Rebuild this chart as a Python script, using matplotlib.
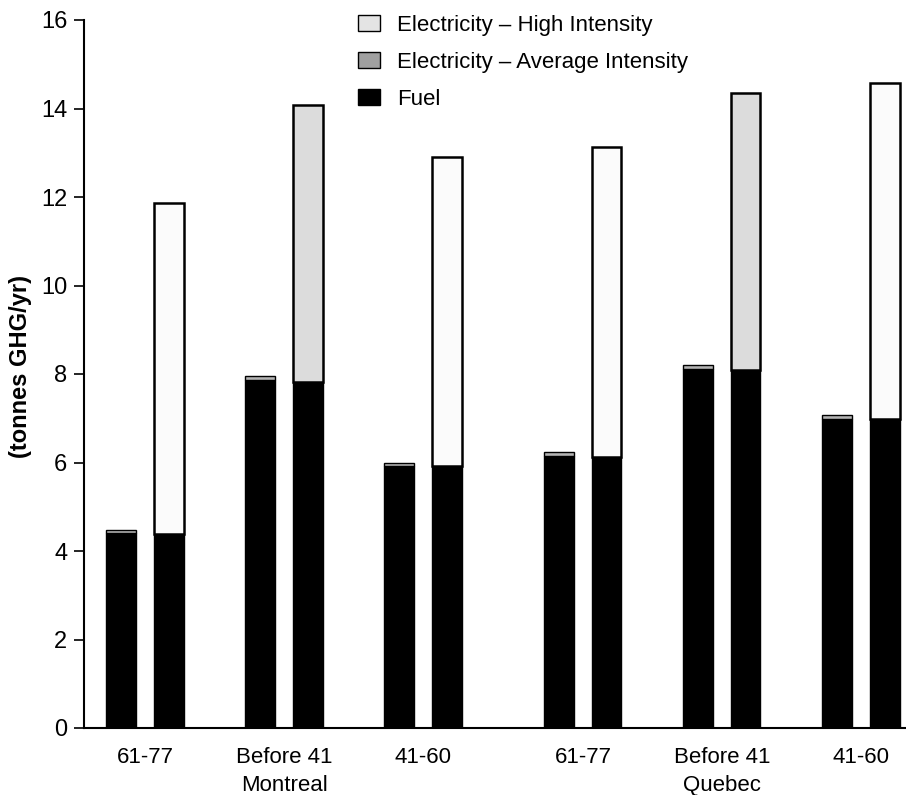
import numpy as np
import matplotlib
matplotlib.use("Agg")
import matplotlib.pyplot as plt
from matplotlib.patches import Patch

plt.rcParams['font.family'] = ['Liberation Sans', 'DejaVu Sans']

# ---- data ----
periods = ["61-77", "Before 41", "41-60", "61-77", "Before 41", "41-60"]
cities = ["", "Montreal", "", "", "Quebec", ""]
fuel_left = [4.40, 7.86, 5.92, 6.15, 8.12, 6.98]
elec_avg_left = [0.07, 0.09, 0.08, 0.08, 0.08, 0.09]
fuel_right = [4.38, 7.83, 5.92, 6.12, 8.10, 6.98]
total_right = [11.87, 14.08, 12.91, 13.14, 14.34, 14.58]
elec_high_right = [t - f for t, f in zip(total_right, fuel_right)]
legend_labels = ["Electricity \u2013 High Intensity",
                 "Electricity \u2013 Average Intensity",
                 "Fuel"]
y_label = "(tonnes GHG/yr)"

# ---- layout ----
W, H = 906, 795
fig = plt.figure(figsize=(W / 100, H / 100), dpi=100)
ax = fig.add_axes([84 / W, 67 / H, (905 - 84) / W, (728 - 20) / H])

pos = np.arange(6) + np.array([0, 0, 0, 0.15, 0.15, 0.15])
off = 0.17
bw = 0.215

high_colors = ["#fbfbfb", "#dcdcdc", "#fbfbfb", "#fbfbfb", "#dcdcdc", "#fbfbfb"]
fuel_c = "black"
avg_c = "#b4b4b4"

# left bars: fuel + average-intensity electricity
ax.bar(pos - off, fuel_left, bw, color=fuel_c, edgecolor="black", linewidth=1.0)
ax.bar(pos - off, elec_avg_left, bw, bottom=fuel_left, color=avg_c,
       edgecolor="black", linewidth=1.0)
# right bars: fuel + high-intensity electricity
ax.bar(pos + off, fuel_right, bw, color=fuel_c, edgecolor="black", linewidth=1.0)
ax.bar(pos + off, elec_high_right, bw, bottom=fuel_right, color=high_colors,
       edgecolor="black", linewidth=1.8)

ax.set_ylim(0, 16)
ax.set_xlim(pos[0] - 0.439, pos[-1] + 0.317)
ax.set_yticks(np.arange(0, 17, 2))
ax.tick_params(axis="y", direction="out", length=7, width=1.2,
               labelsize=17, pad=5)
ax.set_xticks(pos)
ax.set_xticklabels([p + ("\n" + c if c else "") for p, c in zip(periods, cities)],
                   fontsize=16, linespacing=1.4, va="top")
ax.tick_params(axis="x", length=0, pad=14)
for s in ["top", "right"]:
    ax.spines[s].set_visible(False)
ax.spines["left"].set_linewidth(1.5)
ax.spines["bottom"].set_linewidth(1.5)

fig.text(21 / W, 1 - 366 / H, y_label, rotation=90, ha="center", va="center",
         fontsize=17, fontweight="bold")

handles = [Patch(facecolor="#e4e4e4", edgecolor="black", linewidth=1.0),
           Patch(facecolor="#a0a0a0", edgecolor="black", linewidth=1.0),
           Patch(facecolor="black", edgecolor="black", linewidth=1.0)]
ax.legend(handles, legend_labels, loc="upper left",
          bbox_to_anchor=(340 / W, 1 + 3 / H), bbox_transform=fig.transFigure,
          frameon=False, fontsize=16, handlelength=1.0, handleheight=0.75,
          labelspacing=0.72, handletextpad=0.75, borderpad=0.3)

fig.savefig("out.png", dpi=100)
